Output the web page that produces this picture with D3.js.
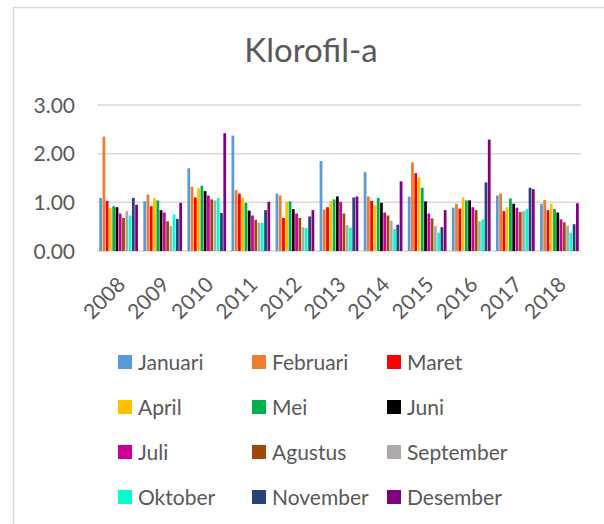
<!DOCTYPE html>
<html>
<head>
<meta charset="utf-8">
<script src="https://cdn.jsdelivr.net/npm/d3@7"></script>
<style>
  body { margin: 0; background: #fff; }
  svg text { font-family: Lato, "Open Sans", sans-serif; fill: #595959; }
</style>
</head>
<body>
<div id="chart"></div>
<script>
// --- data ---
const years = ['2008', '2009', '2010', '2011', '2012', '2013', '2014', '2015', '2016', '2017', '2018'];
const months = ['Januari', 'Februari', 'Maret', 'April', 'Mei', 'Juni', 'Juli', 'Agustus', 'September', 'Oktober', 'November', 'Desember'];
const monthColors = ['#5b9bd5', '#ed7d31', '#ff0000', '#ffc000', '#00b050', '#000000', '#cc0099', '#9e480e', '#aeaaaa', '#00ffcc', '#264478', '#800080'];
const yTicks = [0, 1, 2, 3];

// one row per year, Januari..Desember
const v2008 = [1.09, 2.35, 1.03, 0.88, 0.92, 0.90, 0.77, 0.68, 0.82, 0.73, 1.09, 0.95];
const v2009 = [1.02, 1.16, 0.92, 1.09, 1.04, 0.84, 0.79, 0.61, 0.51, 0.75, 0.66, 0.99];
const v2010 = [1.70, 1.32, 1.10, 1.29, 1.34, 1.23, 1.14, 1.06, 1.04, 1.09, 0.78, 2.42];
const v2011 = [2.37, 1.25, 1.18, 1.09, 0.99, 0.83, 0.73, 0.64, 0.58, 0.58, 0.84, 1.01];
const v2012 = [1.18, 1.14, 0.68, 1.01, 1.02, 0.86, 0.77, 0.68, 0.49, 0.47, 0.71, 0.84];
const v2013 = [1.85, 0.85, 0.90, 1.03, 1.06, 1.12, 1.01, 0.77, 0.53, 0.48, 1.10, 1.12];
const v2014 = [1.62, 1.12, 1.03, 0.94, 1.09, 0.99, 0.79, 0.73, 0.62, 0.45, 0.54, 1.43];
const v2015 = [1.12, 1.82, 1.60, 1.51, 1.30, 1.02, 0.77, 0.67, 0.51, 0.38, 0.49, 0.84];
const v2016 = [0.89, 0.97, 0.87, 1.10, 1.04, 1.04, 0.90, 0.84, 0.61, 0.65, 1.41, 2.29];
const v2017 = [1.14, 1.18, 0.82, 0.90, 1.08, 0.97, 0.89, 0.80, 0.82, 0.86, 1.30, 1.27];
const v2018 = [0.97, 1.05, 0.84, 0.97, 0.86, 0.79, 0.65, 0.59, 0.52, 0.38, 0.55, 0.98];
const values = [v2008, v2009, v2010, v2011, v2012, v2013, v2014, v2015, v2016, v2017, v2018];

const W = 604, H = 524;
const svg = d3.select('#chart').append('svg')
    .attr('width', W).attr('height', H);

// chart frame (runs off the right and bottom edge)
svg.append('rect')
    .attr('x', 13.5).attr('y', 7.5)
    .attr('width', 700).attr('height', 700)
    .attr('fill', '#fff').attr('stroke', '#d9d9d9').attr('stroke-width', 1.5);

svg.append('text')
    .attr('x', 311).attr('y', 62)
    .attr('text-anchor', 'middle')
    .style('font-size', '33px')
    .text('Klorofil-a');

const x0 = d3.scaleBand().domain(years).range([97, 581]).paddingInner(0.11).paddingOuter(0.045);
const x1 = d3.scaleBand().domain(months).range([0, x0.bandwidth()]);
const y = d3.scaleLinear().domain([0, 3]).range([251, 105]);

// gridlines
svg.append('g')
    .selectAll('line')
    .data(yTicks)
    .join('line')
    .attr('x1', 97).attr('x2', 581)
    .attr('y1', d => y(d)).attr('y2', d => y(d))
    .attr('stroke', '#d9d9d9').attr('stroke-width', 1.5);

// y labels
svg.append('g')
    .selectAll('text')
    .data(yTicks)
    .join('text')
    .attr('x', 75).attr('y', d => y(d) + 7.5)
    .attr('text-anchor', 'end')
    .style('font-size', '21px')
    .text(d => d3.format('.2f')(d));

// bars
const groups = svg.append('g')
    .selectAll('g')
    .data(years.map((yr, i) => ({ yr, vals: values[i] })))
    .join('g')
    .attr('transform', d => `translate(${x0(d.yr)},0)`);

groups.selectAll('rect')
    .data(d => d.vals.map((v, j) => ({ m: months[j], v, c: monthColors[j] })))
    .join('rect')
    .attr('x', d => x1(d.m) + 0.25)
    .attr('width', x1.bandwidth() - 0.5)
    .attr('y', d => y(d.v))
    .attr('height', d => y(0) - y(d.v))
    .attr('fill', d => d.c);

// x labels, rotated
svg.append('g')
    .selectAll('text')
    .data(years)
    .join('text')
    .attr('text-anchor', 'end')
    .attr('transform', d => `translate(${x0(d) + x0.bandwidth() / 2 + 8},${286}) rotate(-45)`)
    .style('font-size', '21px')
    .text(d => d);

// legend: 3 columns x 4 rows
const legend = svg.append('g')
    .selectAll('g')
    .data(months)
    .join('g')
    .attr('transform', (d, i) => `translate(${[118, 252, 387][i % 3]},${362 + Math.floor(i / 3) * 45})`);

legend.append('rect')
    .attr('x', 0).attr('y', -7)
    .attr('width', 14).attr('height', 14)
    .attr('fill', (d, i) => monthColors[i]);

legend.append('text')
    .attr('x', 20).attr('y', 7.5)
    .style('font-size', '21px')
    .text(d => d);
</script>
</body>
</html>
